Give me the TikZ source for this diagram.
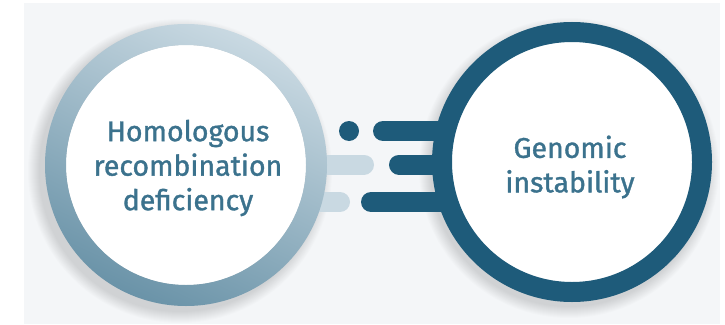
\documentclass[tikz,border=0pt]{standalone}
\usepackage{fontspec}
\setmainfont{Fira Sans}
\begin{document}
\definecolor{pagebg}{HTML}{F4F6F8}
\definecolor{deepteal}{HTML}{1E5B7A}
\definecolor{labelteal}{HTML}{3B728D}
\definecolor{palering}{HTML}{C9D9E2}
\definecolor{duskring}{HTML}{6A93A8}
\begin{tikzpicture}[x=1pt,y=-1pt,
  label/.style={align=center,text=labelteal,
    font=\fontsize{28.5}{34.5}\selectfont\addfontfeature{FakeBold=1.2}},
  disc/.style={circle,fill=white,inner sep=0pt,minimum size=240pt},
  darkbar/.style={line width=20pt,line cap=round,draw=deepteal},
  lightbar/.style={line width=20pt,line cap=round,draw=palering}]
  % canvas and backdrop
  \useasboundingbox (0,0) rectangle (725,324);
  \fill[white] (0,0) rectangle (725,324);
  \fill[pagebg] (24,3) rectangle (720,324);

  % soft drop shadows
  \foreach \i in {1,...,12}{
    \fill[black,opacity=0.012] (180,171) circle ({140pt+\i*1pt});
    \fill[black,opacity=0.010] (569,168) circle ({138pt+\i*1pt});
  }

  % named centres of the two discs
  \coordinate (lc) at (186,165);
  \coordinate (rc) at (572,162);

  % connector bars and dot
  \coordinate (dot) at (349,131);
  \coordinate (t1) at (383,131);
  \coordinate (t2) at (470,131);
  \coordinate (m1) at (399,164.5);
  \coordinate (m2) at (470,164.5);
  \coordinate (b1) at (371,202);
  \coordinate (b2) at (470,202);
  \coordinate (lm1) at (300,164.5);
  \coordinate (lm2) at (364,164.5);
  \coordinate (lb1) at (300,202);
  \coordinate (lb2) at (340,202);
  \fill[deepteal] (dot) circle (10pt);
  \draw[darkbar] (t1) -- (t2);
  \draw[darkbar] (m1) -- (m2);
  \draw[darkbar] (b1) -- (b2);
  \draw[lightbar] (lm1) -- (lm2);
  \draw[lightbar] (lb1) -- (lb2);

  % left disc with shaded ring
  \node[disc] (hrd) at (lc) {};
  \shade[even odd rule,top color=palering,bottom color=duskring,shading angle=-25]
    (hrd.center) circle (141pt) circle (120pt);
  \node[label] (hrdtext) at (188,168) {Homologous\\recombination\\deficiency};

  % right disc with solid ring
  \node[disc,draw=deepteal,line width=20pt,minimum size=260pt] (gi) at (rc) {};
  \node[label] (gitext) at (570,167) {Genomic\\instability};
\end{tikzpicture}
\end{document}
